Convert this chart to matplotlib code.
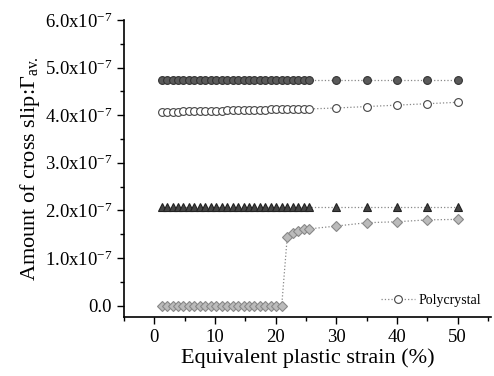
import numpy as np
import matplotlib
matplotlib.use('Agg')
import matplotlib.pyplot as plt
from matplotlib.ticker import MultipleLocator

plt.rcParams['font.family'] = ['Liberation Serif', 'DejaVu Serif']
plt.rcParams['mathtext.fontset'] = 'custom'
plt.rcParams['mathtext.rm'] = 'Liberation Serif'
plt.rcParams['mathtext.it'] = 'Liberation Serif:italic'

# strain (%) - dense part up to ~25 %, then every 5 %
strain = [1.2, 2.1, 3.0, 3.9, 4.8, 5.7, 6.6, 7.5, 8.4, 9.3,
          10.2, 11.1, 12.0, 12.9, 13.8, 14.7, 15.6, 16.5, 17.4, 18.3,
          19.2, 20.1, 21.0, 21.9, 22.8, 23.7, 24.6, 25.5,
          30, 35, 40, 45, 50]

# cross slip amount, in units of 1e-7
dark_circles = [4.74] * 33
open_circles = [4.07, 4.07, 4.07, 4.07, 4.08, 4.08, 4.08, 4.08, 4.09, 4.09,
                4.09, 4.09, 4.10, 4.10, 4.10, 4.10, 4.11, 4.11, 4.11, 4.11,
                4.12, 4.12, 4.12, 4.12, 4.13, 4.13, 4.13, 4.13,
                4.15, 4.18, 4.21, 4.24, 4.27]
triangles = [2.08] * 33
diamonds = [0.0] * 23 + [1.43, 1.52, 1.57, 1.60, 1.61,
                         1.67, 1.74, 1.76, 1.80, 1.81]

yticks = [0, 1, 2, 3, 4, 5, 6]
ytick_labels = ['0.0'] + [r'%d.0x10$^{\mathregular{-7}}$' % v for v in yticks[1:]]
xticks = [0, 10, 20, 30, 40, 50]

fig = plt.figure(figsize=(4.94, 3.76), dpi=100)
ax = fig.add_axes([0.251, 0.157, 0.743, 0.79])

line_kw = dict(ls=':', lw=0.9, color='#888888', markersize=5.6, markeredgewidth=0.8)
ax.plot(strain, dark_circles, marker='o', mfc='#5a5a5a', mec='#333333', **line_kw)
ax.plot(strain, open_circles, marker='o', mfc='white', mec='#444444',
        label='Polycrystal', **line_kw)
ax.plot(strain, triangles, marker='^', mfc='#444444', mec='#222222',
        **dict(line_kw, markersize=6))
ax.plot(strain, diamonds, marker='D', mfc='#bbbbbb', mec='#888888',
        **dict(line_kw, markersize=4.6))

ax.set_xlim(-5, 55.5)
ax.set_ylim(-0.24, 6.0)
ax.set_xticks(xticks)
ax.set_yticks(yticks)
ax.set_yticklabels(ytick_labels)
ax.xaxis.set_minor_locator(MultipleLocator(5))
ax.yaxis.set_minor_locator(MultipleLocator(0.5))
ax.tick_params(which='both', direction='out', labelsize=13.5, width=1)
ax.tick_params(which='major', length=5)
ax.tick_params(which='minor', length=3)

for s in ['top', 'right']:
    ax.spines[s].set_visible(False)
for s in ['left', 'bottom']:
    ax.spines[s].set_linewidth(1.2)

ax.set_xlabel('Equivalent plastic strain (%)', fontsize=16, labelpad=2)
ax.set_ylabel(r'Amount of cross slip:$\Gamma_{\mathregular{av.}}$', fontsize=16, labelpad=2)

ax.legend(loc='lower right', frameon=False, fontsize=10, handlelength=2.4,
          handletextpad=0.3, borderaxespad=0.3)

fig.savefig('out.png', dpi=100)
